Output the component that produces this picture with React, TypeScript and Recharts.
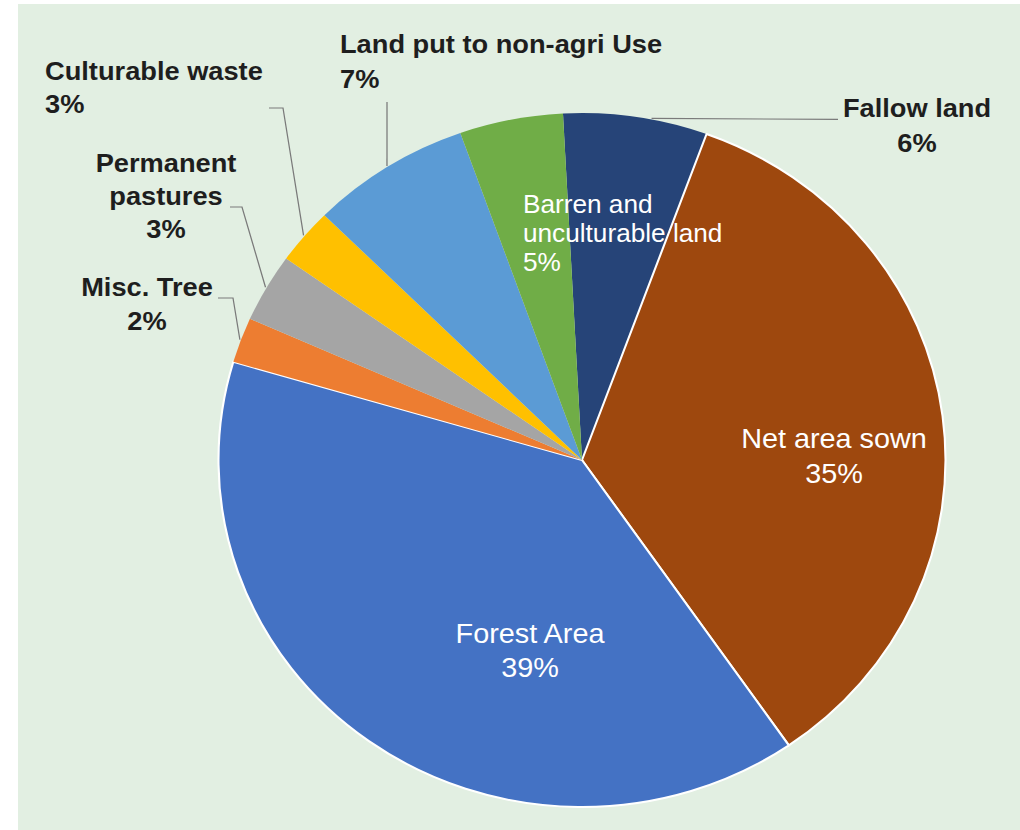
import React from 'react';
import { PieChart, Pie, Cell } from 'recharts';

// ---- data ----
const CATEGORIES = [
  'Fallow land',
  'Net area sown',
  'Forest Area',
  'Misc. Tree',
  'Permanent pastures',
  'Culturable waste',
  'Land put to non-agri Use',
  'Barren and unculturable land',
];
const SHARES = [6.4, 34.8, 39.2, 2.1, 3.2, 2.6, 7.1, 4.6];
const COLORS = ['#264478', '#9e480e', '#4472c4', '#ed7d31', '#a5a5a5', '#ffc000', '#5b9bd5', '#70ad47'];

const data = CATEGORIES.map((name, i) => ({ name, value: SHARES[i] }));

// ---- layout ----
const W = 1020;
const H = 830;
const S = 1.0476; // horizontal stretch of the original picture
const CW = Math.round(W / S);
const CX = 582 / S;
const CY = 460;
const R = 347;
const RADIAN = Math.PI / 180;
const FONT = '"Liberation Sans", Arial, Helvetica, sans-serif';

type Pt = [number, number];
type LabelLayout = {
  x: number;
  y: number;
  anchor: 'start' | 'middle' | 'end';
  inside: boolean;
  size: number;
  gap: number;
  breakAfter?: number;
  leader?: { angle?: number; points: Pt[] };
};

// offsets (screen pixels) relative to the pie centre
const LABEL_LAYOUT: LabelLayout[] = [
  { x: 335, y: -343, anchor: 'middle', inside: false, size: 26, gap: 35, leader: { angle: 79, points: [[256, -340.6]] } },
  { x: 252, y: -12, anchor: 'middle', inside: true, size: 27.5, gap: 35 },
  { x: -52, y: 183, anchor: 'middle', inside: true, size: 27.5, gap: 34 },
  { x: -435, y: -164, anchor: 'middle', inside: false, size: 26, gap: 34, leader: { points: [[-349, -162], [-364, -162]] } },
  { x: -416, y: -288, anchor: 'middle', inside: false, size: 26, gap: 33, breakAfter: 1, leader: { points: [[-340, -253], [-352, -253]] } },
  { x: -537, y: -380, anchor: 'start', inside: false, size: 26, gap: 33, leader: { points: [[-299, -352], [-313, -352]] } },
  { x: -242, y: -407, anchor: 'start', inside: false, size: 26, gap: 35, leader: { points: [[-195, -358]] } },
  { x: -59, y: -247, anchor: 'start', inside: true, size: 25, gap: 29, breakAfter: 2 },
];

const polar = (cx: number, cy: number, r: number, angle: number): Pt => [
  cx + r * Math.cos(-angle * RADIAN),
  cy + r * Math.sin(-angle * RADIAN),
];

const renderLabel = (props: any) => {
  const { cx, cy, midAngle, outerRadius, percent, name } = props;
  const index = CATEGORIES.indexOf(name);
  const lay = LABEL_LAYOUT[index];
  if (!lay) return null;
  const words = String(name).split(' ');
  const lines = lay.breakAfter
    ? [words.slice(0, lay.breakAfter).join(' '), words.slice(lay.breakAfter).join(' ')]
    : [String(name)];
  lines.push(`${Math.round(percent * 100)}%`);
  const tx = cx + lay.x / S;
  const ty = cy + lay.y;
  let leader = null;
  if (lay.leader) {
    const start = polar(cx, cy, outerRadius + 1, lay.leader.angle ?? midAngle);
    const pts = [start, ...lay.leader.points.map(([dx, dy]) => [cx + dx / S, cy + dy] as Pt)];
    leader = (
      <polyline
        points={pts.map((p) => `${p[0]},${p[1]}`).join(' ')}
        fill="none"
        stroke="#7a7a7a"
        strokeWidth={1.2}
      />
    );
  }
  return (
    <g key={`lbl-${index}`}>
      {leader}
      <text
        x={tx}
        y={ty}
        textAnchor={lay.anchor}
        fill={lay.inside ? '#ffffff' : '#1e1e1e'}
        fontSize={lay.size}
        fontWeight={lay.inside ? 'normal' : 'bold'}
        fontFamily={FONT}
      >
        {lines.map((ln, i) => (
          <tspan key={i} x={tx} y={ty + i * lay.gap}>
            {ln}
          </tspan>
        ))}
      </text>
    </g>
  );
};

export default function App() {
  return (
    <div style={{ position: 'absolute', left: 0, top: 0, width: W, height: H, background: '#ffffff', overflow: 'hidden' }}>
      <div style={{ position: 'absolute', left: 18, top: 4, right: 0, bottom: 0, background: '#e2efe2' }} />
      <div style={{ position: 'absolute', left: 0, top: 0, transform: `scaleX(${S})`, transformOrigin: '0 0' }}>
        <PieChart width={CW} height={H} margin={{ top: 0, right: 0, bottom: 0, left: 0 }}>
          <Pie
            data={data}
            dataKey="value"
            nameKey="name"
            cx={CX}
            cy={CY}
            outerRadius={R}
            startAngle={93}
            endAngle={-267}
            isAnimationActive={false}
            label={renderLabel}
            labelLine={false}
          >
            {data.map((d, i) => (
              <Cell
                key={d.name}
                fill={COLORS[i]}
                stroke={i === 1 || i === 2 ? '#ffffff' : COLORS[i]}
                strokeWidth={i === 1 || i === 2 ? 2 : 0}
              />
            ))}
          </Pie>
        </PieChart>
      </div>
    </div>
  );
}
